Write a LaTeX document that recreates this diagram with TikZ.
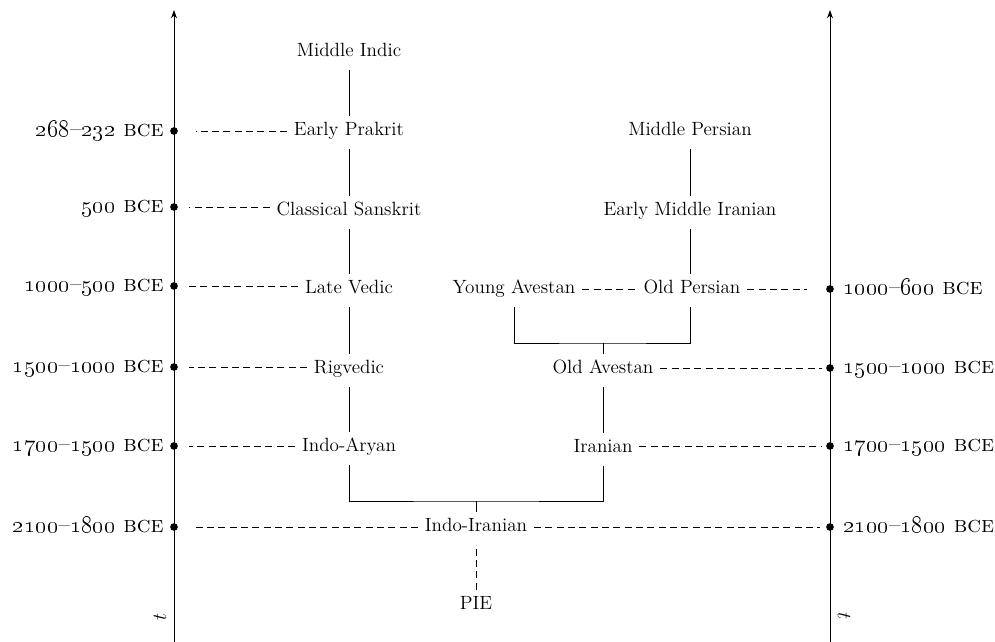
\documentclass[tikz,border=0pt]{standalone}
\usetikzlibrary{arrows.meta}
\newcommand{\bce}{\textsc{bce}}
\newcommand{\yr}[1]{\oldstylenums{#1}}
\newcommand{\yrs}[2]{\oldstylenums{#1}--\oldstylenums{#2}}
\tikzset{
  lang/.style={inner xsep=4pt, inner ysep=5pt, text height=.7em, text depth=.25em, anchor=base},
  datefont/.style={font=\fontsize{14}{16}\selectfont},
  datel/.style={datefont, inner sep=0pt, anchor=base east},
  dater/.style={datefont, inner sep=0pt, anchor=base west},
  guide/.style={dash pattern=on 4.2pt off 2.6pt},
  stem/.style={line width=0.45pt},
  axis/.style={line width=0.55pt, -{Stealth[length=5pt,width=3.6pt]}},
  tick/.style={fill, circle, inner sep=0pt, minimum size=4.6pt},
}
\begin{document}
\begin{tikzpicture}[x=0.6pt, y=-0.6pt, font=\fontsize{11.5}{13}\selectfont]
\useasboundingbox (0,0) rectangle (995,642);

% time axes
\coordinate (aL0) at (174,642); \coordinate (aL1) at (174,10);
\coordinate (aR0) at (830,642); \coordinate (aR1) at (830,10);
\draw[axis] (aL0) -- (aL1);
\draw[axis] (aR0) -- (aR1);
\node[rotate=90] (tL) at (160,617) {$t$};
\node[rotate=-90] (tR) at (844,616) {$t$};

% dated points on the left axis
\node[tick] (L1) at (174,131) {};
\node[tick] (L2) at (174,207) {};
\node[tick] (L3) at (174,286) {};
\node[tick] (L4) at (174,367) {};
\node[tick] (L5) at (174,446) {};
\node[tick] (L6) at (174,527) {};
\node[datel] (dL1) at (164,137) {\yrs{268}{232} \bce};
\node[datel] (dL2) at (164,213) {\yr{500} \bce};
\node[datel] (dL3) at (164,292) {\yrs{1000}{500} \bce};
\node[datel] (dL4) at (164,373) {\yrs{1500}{1000} \bce};
\node[datel] (dL5) at (164,452) {\yrs{1700}{1500} \bce};
\node[datel] (dL6) at (164,533) {\yrs{2100}{1800} \bce};

% dated points on the right axis
\node[tick] (R3) at (830,289) {};
\node[tick] (R4) at (830,368) {};
\node[tick] (R5) at (830,446) {};
\node[tick] (R6) at (830,527) {};
\node[dater] (dR3) at (843,295) {\yrs{1000}{600} \bce};
\node[dater] (dR4) at (843,374) {\yrs{1500}{1000} \bce};
\node[dater] (dR5) at (843,452) {\yrs{1700}{1500} \bce};
\node[dater] (dR6) at (843,533) {\yrs{2100}{1800} \bce};

% Indic branch
\node[lang] (mi)  at (349,57)  {Middle Indic};
\node[lang] (ep)  at (349,136) {Early Prakrit};
\node[lang] (cs)  at (349,216) {Classical Sanskrit};
\node[lang] (lv)  at (349,294) {Late Vedic};
\node[lang] (rv)  at (349,374) {Rigvedic};
\node[lang] (ia)  at (349,452) {Indo-Aryan};

% Iranian branch
\node[lang] (mp)  at (690,136) {Middle Persian};
\node[lang] (emi) at (690,216) {Early Middle Iranian};
\node[lang] (op)  at (692,294) {Old Persian};
\node[lang] (ya)  at (514,294) {Young Avestan};
\node[lang] (oa)  at (603,374) {Old Avestan};
\node[lang] (ir)  at (603,453) {Iranian};

% common ancestors
\node[lang] (iir) at (476,532) {Indo-Iranian};
\node[lang] (pie) at (476,610) {PIE};

% descent lines
\draw[stem] (mi) -- (ep);
\draw[stem] (ep) -- (cs);
\draw[stem] (cs) -- (lv);
\draw[stem] (lv) -- (rv);
\draw[stem] (rv) -- (ia);
\draw[stem] (mp) -- (emi);
\draw[stem] (emi) -- (op.north -| emi);
\draw[stem] (oa) -- (ir);

\coordinate (jA) at (476,501);
\draw[stem] (ia.south) |- (jA) -| (ir.south);
\draw[stem] (jA) -- (iir.north);

\coordinate (jB) at (603,343);
\draw[stem] (ya.south) |- (jB) -| (op.south -| emi);
\draw[stem] (jB) -- (oa.north);

\draw[stem, guide] (pie.north) -- (iir.south);

% dashed guides to the time axes, level with the dots
\draw[guide] (L1 -| ep.west)  -- ([xshift=13pt]L1.center);
\draw[guide] (L2 -| cs.west)  -- ([xshift=9pt]L2.center);
\draw[guide] (L3 -| lv.west)  -- ([xshift=9pt]L3.center);
\draw[guide] (L4 -| rv.west)  -- ([xshift=9pt]L4.center);
\draw[guide] (L5 -| ia.west)  -- ([xshift=9pt]L5.center);
\draw[guide] (L6 -| iir.west) -- ([xshift=13pt]L6.center);
\draw[guide] (R6 -| iir.east) -- ([xshift=-6pt]R6.center);
\draw[guide] (R5 -| ir.east)  -- ([xshift=-5pt]R5.center);
\draw[guide] (R4 -| oa.east)  -- ([xshift=-5pt]R4.center);
\draw[guide] (R3 -| op.east)  -- ([xshift=-14pt]R3.center);
\draw[guide] (R3 -| ya.east)  -- (R3 -| op.west);
\end{tikzpicture}
\end{document}
